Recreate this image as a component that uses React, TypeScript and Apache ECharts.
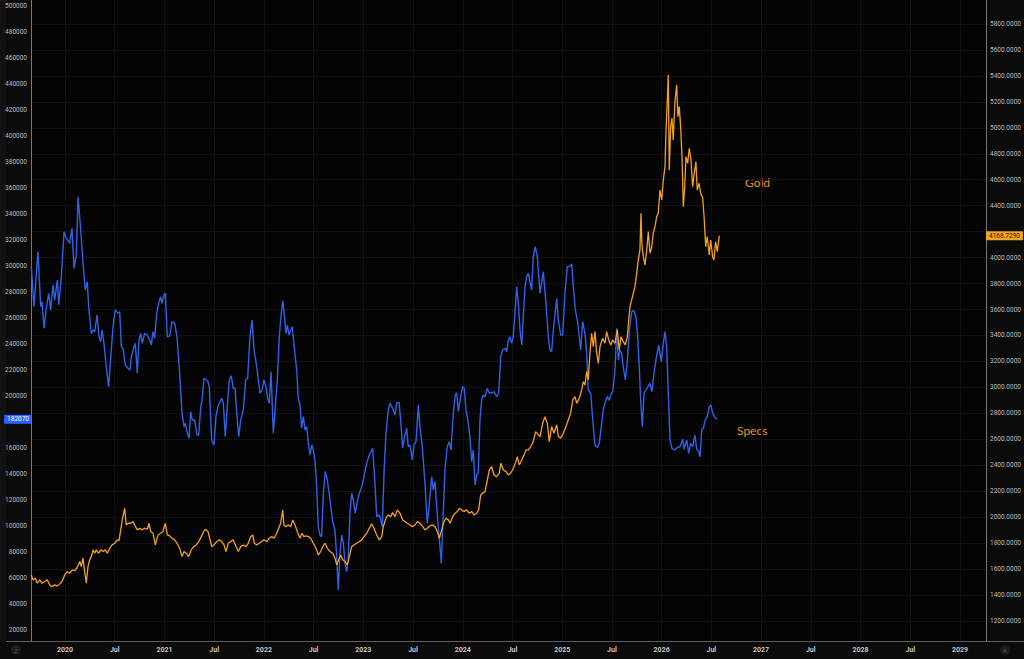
import React, { useEffect, useRef } from "react";
import * as echarts from "echarts";

// Speculator net positions (left axis) — [decimal year, contracts]
const specs: [number, number][] = [
  [2019.661, 299500], [2019.688, 268700], [2019.728, 311000], [2019.756, 268700], [2019.769, 272500],
  [2019.789, 252100], [2019.812, 267500], [2019.836, 279000], [2019.856, 266200], [2019.879, 285400],
  [2019.896, 273800], [2019.923, 289200], [2019.937, 270000], [2019.963, 291800], [2019.990, 326400],
  [2020.013, 321300], [2020.047, 317500], [2020.070, 329000], [2020.091, 298200], [2020.114, 308500],
  [2020.131, 353300], [2020.158, 327700], [2020.181, 302100], [2020.204, 281500], [2020.224, 287900],
  [2020.238, 268700], [2020.264, 248200], [2020.282, 250800], [2020.299, 249500], [2020.322, 262300],
  [2020.342, 245600], [2020.359, 241800], [2020.372, 250800], [2020.392, 240500], [2020.415, 222500],
  [2020.439, 207200], [2020.460, 230200], [2020.483, 253300], [2020.506, 266200], [2020.533, 263600],
  [2020.550, 264800], [2020.566, 237900], [2020.583, 236700], [2020.606, 223800], [2020.634, 221300],
  [2020.654, 220000], [2020.667, 230200], [2020.694, 237900], [2020.707, 240500], [2020.727, 217500],
  [2020.744, 243100], [2020.761, 248200], [2020.777, 240500], [2020.801, 248200], [2020.825, 246900],
  [2020.852, 243100], [2020.868, 239200], [2020.885, 249500], [2020.902, 244400], [2020.922, 263600],
  [2020.942, 271300], [2020.962, 276400], [2020.975, 271300], [2020.996, 277700], [2021.009, 279000],
  [2021.029, 245600], [2021.053, 246200], [2021.076, 257200], [2021.103, 255900], [2021.126, 245600],
  [2021.153, 217500], [2021.177, 186700], [2021.197, 176400], [2021.210, 179000], [2021.230, 171300],
  [2021.247, 167500], [2021.264, 187900], [2021.280, 181500], [2021.304, 181500], [2021.327, 170000],
  [2021.345, 170000], [2021.365, 191800], [2021.378, 196900], [2021.398, 213600], [2021.421, 212300],
  [2021.438, 211000], [2021.451, 207200], [2021.475, 166200], [2021.498, 162300], [2021.518, 184100],
  [2021.542, 193100], [2021.576, 198200], [2021.592, 194400], [2021.612, 168700], [2021.632, 191800],
  [2021.652, 212300], [2021.672, 215400], [2021.692, 205900], [2021.710, 205900], [2021.727, 186700],
  [2021.747, 168700], [2021.767, 181500], [2021.793, 189200], [2021.817, 212300], [2021.837, 213600],
  [2021.860, 245600], [2021.881, 258500], [2021.901, 235400], [2021.928, 222500], [2021.961, 202100],
  [2021.981, 204600], [2022.001, 212300], [2022.021, 207200], [2022.038, 198200], [2022.054, 194400],
  [2022.072, 218700], [2022.095, 171300], [2022.115, 191800], [2022.135, 212300], [2022.155, 245600],
  [2022.172, 261000], [2022.189, 273300], [2022.205, 263600], [2022.222, 248200], [2022.236, 254600],
  [2022.253, 246900], [2022.270, 250800], [2022.286, 253300], [2022.303, 239200], [2022.330, 220000],
  [2022.346, 198200], [2022.363, 193100], [2022.380, 175200], [2022.396, 184100], [2022.414, 173800],
  [2022.431, 176400], [2022.447, 163600], [2022.464, 154600], [2022.481, 162300], [2022.497, 158500],
  [2022.514, 150800], [2022.531, 130200], [2022.547, 99500], [2022.564, 93100], [2022.581, 91800],
  [2022.598, 125200], [2022.618, 141800], [2022.638, 135400], [2022.665, 120000], [2022.692, 103300],
  [2022.715, 96900], [2022.732, 76400], [2022.748, 50800], [2022.765, 79000], [2022.783, 93100],
  [2022.799, 86700], [2022.816, 71300], [2022.833, 64800], [2022.849, 76400], [2022.866, 109800],
  [2022.883, 125200], [2022.899, 120000], [2022.919, 109800], [2022.939, 118700], [2022.960, 125200],
  [2022.984, 130200], [2023.007, 137900], [2023.034, 148200], [2023.060, 154600], [2023.094, 159800],
  [2023.117, 132800], [2023.135, 107200], [2023.161, 108500], [2023.175, 104600], [2023.191, 99500],
  [2023.208, 140500], [2023.228, 171300], [2023.251, 189200], [2023.268, 194400], [2023.295, 190500],
  [2023.319, 185400], [2023.336, 194800], [2023.359, 194800], [2023.376, 181500], [2023.396, 159800],
  [2023.412, 167500], [2023.436, 175200], [2023.452, 161000], [2023.469, 162300], [2023.493, 150800],
  [2023.510, 162300], [2023.530, 164800], [2023.553, 193100], [2023.570, 176400], [2023.593, 161000],
  [2023.620, 132800], [2023.643, 102100], [2023.664, 117500], [2023.688, 137900], [2023.704, 127700],
  [2023.721, 134100], [2023.738, 114800], [2023.754, 99500], [2023.771, 84100], [2023.784, 71300],
  [2023.804, 109800], [2023.821, 143100], [2023.844, 161000], [2023.865, 164800], [2023.882, 158500],
  [2023.905, 186700], [2023.925, 200800], [2023.939, 202500], [2023.955, 187900], [2023.979, 199500],
  [2023.999, 207200], [2024.015, 205900], [2024.033, 189200], [2024.056, 179000], [2024.073, 167500],
  [2024.090, 149500], [2024.106, 158500], [2024.123, 131500], [2024.140, 139200], [2024.156, 141000],
  [2024.173, 181500], [2024.190, 196900], [2024.207, 200800], [2024.224, 199500], [2024.247, 205900],
  [2024.267, 202100], [2024.294, 202500], [2024.314, 203300], [2024.341, 199500], [2024.361, 202100],
  [2024.382, 230200], [2024.402, 235400], [2024.425, 236700], [2024.442, 234100], [2024.458, 243100],
  [2024.475, 245600], [2024.492, 240500], [2024.508, 245600], [2024.525, 263600], [2024.542, 284100],
  [2024.559, 271300], [2024.576, 250800], [2024.593, 239200], [2024.609, 261000], [2024.626, 284100],
  [2024.643, 291800], [2024.659, 294400], [2024.676, 287900], [2024.693, 281500], [2024.709, 307200],
  [2024.729, 314800], [2024.750, 307200], [2024.760, 296900], [2024.777, 279000], [2024.810, 295600],
  [2024.837, 271300], [2024.860, 245600], [2024.877, 235400], [2024.894, 234100], [2024.911, 250800],
  [2024.945, 275200], [2024.961, 258500], [2024.985, 246900], [2025.005, 246900], [2025.028, 279000],
  [2025.051, 299500], [2025.071, 299500], [2025.096, 301500], [2025.112, 284100], [2025.132, 266200],
  [2025.152, 258500], [2025.172, 245600], [2025.186, 235400], [2025.206, 257200], [2025.229, 248200],
  [2025.246, 232800], [2025.262, 204600], [2025.287, 202100], [2025.307, 181500], [2025.330, 162300],
  [2025.353, 160500], [2025.373, 163600], [2025.397, 179000], [2025.413, 189200], [2025.430, 194400],
  [2025.454, 199500], [2025.474, 196900], [2025.488, 200800], [2025.508, 203300], [2025.531, 220000],
  [2025.548, 252100], [2025.564, 227700], [2025.581, 235400], [2025.598, 232800], [2025.614, 222500],
  [2025.635, 212300], [2025.655, 226400], [2025.675, 250800], [2025.699, 264800], [2025.722, 265600],
  [2025.742, 261000], [2025.759, 245600], [2025.775, 222500], [2025.789, 196900], [2025.806, 176400],
  [2025.823, 202100], [2025.843, 204600], [2025.863, 207200], [2025.883, 209800], [2025.903, 203300],
  [2025.923, 217500], [2025.943, 227700], [2025.970, 239200], [2025.997, 226400], [2026.017, 240500],
  [2026.034, 249500], [2026.051, 237900], [2026.067, 202100], [2026.084, 166200], [2026.104, 159800],
  [2026.134, 158500], [2026.158, 160500], [2026.185, 161000], [2026.212, 166700], [2026.225, 159000],
  [2026.252, 166200], [2026.272, 155900], [2026.292, 163600], [2026.312, 161000], [2026.335, 170000],
  [2026.353, 159000], [2026.373, 157200], [2026.386, 153300], [2026.403, 173800], [2026.419, 175200],
  [2026.439, 181500], [2026.459, 184100], [2026.479, 191800], [2026.496, 193100], [2026.513, 186700],
  [2026.534, 183600], [2026.560, 182070],
];

// Gold price (right axis) — [decimal year, USD]
const gold: [number, number][] = [
  [2019.661, 1555], [2019.678, 1517], [2019.701, 1530], [2019.721, 1491], [2019.746, 1517],
  [2019.769, 1491], [2019.796, 1504], [2019.822, 1517], [2019.846, 1478], [2019.869, 1465],
  [2019.896, 1478], [2019.923, 1470], [2019.947, 1486], [2019.970, 1504], [2019.997, 1555],
  [2020.023, 1580], [2020.047, 1568], [2020.073, 1594], [2020.098, 1588], [2020.124, 1614],
  [2020.148, 1658], [2020.164, 1619], [2020.181, 1684], [2020.198, 1580], [2020.214, 1491],
  [2020.231, 1619], [2020.248, 1671], [2020.264, 1696], [2020.282, 1748], [2020.299, 1722],
  [2020.315, 1748], [2020.339, 1722], [2020.359, 1748], [2020.382, 1735], [2020.405, 1748],
  [2020.425, 1722], [2020.450, 1761], [2020.473, 1786], [2020.500, 1799], [2020.526, 1825],
  [2020.543, 1820], [2020.560, 1902], [2020.576, 1979], [2020.600, 2069], [2020.616, 1940],
  [2020.634, 1953], [2020.661, 1953], [2020.684, 1966], [2020.701, 1940], [2020.727, 1902],
  [2020.751, 1915], [2020.774, 1902], [2020.801, 1915], [2020.828, 1907], [2020.845, 1953],
  [2020.862, 1889], [2020.885, 1876], [2020.908, 1786], [2020.935, 1863], [2020.962, 1876],
  [2020.985, 1889], [2021.009, 1953], [2021.029, 1863], [2021.053, 1856], [2021.076, 1838],
  [2021.103, 1825], [2021.126, 1799], [2021.153, 1761], [2021.177, 1696], [2021.197, 1735],
  [2021.220, 1722], [2021.244, 1696], [2021.270, 1748], [2021.294, 1773], [2021.320, 1786],
  [2021.345, 1812], [2021.371, 1850], [2021.395, 1889], [2021.411, 1907], [2021.438, 1889],
  [2021.451, 1850], [2021.475, 1773], [2021.498, 1786], [2021.525, 1812], [2021.552, 1825],
  [2021.576, 1812], [2021.599, 1786], [2021.619, 1735], [2021.642, 1799], [2021.666, 1812],
  [2021.692, 1825], [2021.720, 1773], [2021.743, 1735], [2021.767, 1773], [2021.793, 1786],
  [2021.820, 1773], [2021.843, 1799], [2021.867, 1850], [2021.888, 1863], [2021.904, 1799],
  [2021.928, 1786], [2021.954, 1799], [2021.978, 1812], [2022.001, 1825], [2022.028, 1812],
  [2022.054, 1838], [2022.079, 1850], [2022.102, 1838], [2022.129, 1876], [2022.149, 1915],
  [2022.169, 1953], [2022.189, 2056], [2022.202, 1940], [2022.222, 1927], [2022.245, 1940],
  [2022.270, 1927], [2022.290, 1979], [2022.313, 1940], [2022.336, 1889], [2022.363, 1838],
  [2022.383, 1876], [2022.403, 1850], [2022.424, 1856], [2022.447, 1850], [2022.471, 1838],
  [2022.497, 1799], [2022.524, 1761], [2022.547, 1709], [2022.571, 1735], [2022.592, 1773],
  [2022.615, 1799], [2022.638, 1761], [2022.665, 1735], [2022.692, 1722], [2022.715, 1684],
  [2022.732, 1632], [2022.758, 1684], [2022.772, 1709], [2022.793, 1671], [2022.816, 1658],
  [2022.839, 1632], [2022.859, 1696], [2022.883, 1773], [2022.906, 1786], [2022.933, 1799],
  [2022.960, 1812], [2022.984, 1825], [2023.007, 1850], [2023.034, 1876], [2023.060, 1915],
  [2023.084, 1948], [2023.107, 1915], [2023.135, 1863], [2023.161, 1825], [2023.185, 1850],
  [2023.201, 1927], [2023.228, 1992], [2023.251, 2017], [2023.275, 2004], [2023.295, 2035],
  [2023.319, 2004], [2023.342, 2056], [2023.369, 2030], [2023.396, 1979], [2023.419, 1966],
  [2023.442, 1953], [2023.469, 1940], [2023.493, 1927], [2023.520, 1940], [2023.543, 1966],
  [2023.570, 1953], [2023.597, 1927], [2023.620, 1902], [2023.643, 1915], [2023.671, 1933],
  [2023.698, 1940], [2023.721, 1927], [2023.744, 1889], [2023.764, 1838], [2023.784, 1889],
  [2023.804, 1953], [2023.831, 1992], [2023.855, 1979], [2023.872, 1953], [2023.899, 2004],
  [2023.922, 2030], [2023.945, 2043], [2023.965, 2069], [2023.989, 2056], [2024.012, 2043],
  [2024.039, 2056], [2024.066, 2030], [2024.090, 2043], [2024.113, 2017], [2024.140, 2030],
  [2024.160, 2056], [2024.180, 2171], [2024.200, 2185], [2024.224, 2197], [2024.241, 2262],
  [2024.267, 2364], [2024.291, 2389], [2024.314, 2326], [2024.341, 2312], [2024.367, 2339],
  [2024.384, 2416], [2024.408, 2364], [2024.435, 2351], [2024.458, 2326], [2024.482, 2339],
  [2024.508, 2377], [2024.535, 2428], [2024.548, 2467], [2024.569, 2403], [2024.593, 2441],
  [2024.616, 2480], [2024.636, 2518], [2024.659, 2518], [2024.683, 2544], [2024.709, 2582],
  [2024.733, 2659], [2024.760, 2634], [2024.777, 2621], [2024.804, 2724], [2024.827, 2775],
  [2024.850, 2724], [2024.870, 2582], [2024.894, 2698], [2024.917, 2647], [2024.945, 2711],
  [2024.961, 2621], [2024.985, 2608], [2025.011, 2647], [2025.038, 2698], [2025.061, 2749],
  [2025.085, 2801], [2025.106, 2903], [2025.129, 2929], [2025.146, 2878], [2025.172, 2916],
  [2025.196, 2980], [2025.212, 3044], [2025.229, 3019], [2025.246, 3121], [2025.262, 3057],
  [2025.279, 3263], [2025.296, 3417], [2025.313, 3314], [2025.330, 3430], [2025.347, 3263],
  [2025.363, 3186], [2025.380, 3314], [2025.407, 3379], [2025.430, 3340], [2025.447, 3430],
  [2025.468, 3366], [2025.488, 3327], [2025.508, 3366], [2025.531, 3340], [2025.554, 3443],
  [2025.574, 3289], [2025.591, 3391], [2025.614, 3352], [2025.635, 3327], [2025.655, 3391],
  [2025.669, 3520], [2025.682, 3622], [2025.699, 3674], [2025.715, 3725], [2025.732, 3776],
  [2025.749, 3879], [2025.765, 3982], [2025.782, 4059], [2025.792, 4342], [2025.802, 4097],
  [2025.816, 4007], [2025.833, 3943], [2025.850, 4059], [2025.866, 4200], [2025.883, 4033],
  [2025.900, 4084], [2025.916, 4188], [2025.933, 4238], [2025.950, 4315], [2025.966, 4342],
  [2025.983, 4521], [2026.001, 4444], [2026.017, 4598], [2026.034, 4701], [2026.044, 4983],
  [2026.057, 5214], [2026.067, 5407], [2026.077, 4675], [2026.091, 5009], [2026.104, 5074],
  [2026.117, 4906], [2026.134, 5201], [2026.151, 5330], [2026.164, 5086], [2026.177, 5163],
  [2026.191, 5009], [2026.205, 4778], [2026.218, 4392], [2026.232, 4547], [2026.245, 4778],
  [2026.262, 4727], [2026.278, 4842], [2026.295, 4752], [2026.312, 4547], [2026.328, 4650],
  [2026.345, 4739], [2026.358, 4521], [2026.376, 4573], [2026.393, 4496], [2026.413, 4457],
  [2026.429, 4290], [2026.443, 4084], [2026.459, 4161], [2026.479, 4020], [2026.493, 4136],
  [2026.513, 4007], [2026.526, 3982], [2026.543, 4123], [2026.560, 4046], [2026.580, 4168.729],
];

const xTicks = [
  2020, 2020.5, 2021, 2021.5, 2022, 2022.5, 2023, 2023.5, 2024, 2024.5,
  2025, 2025.5, 2026, 2026.5, 2027, 2027.5, 2028, 2028.5, 2029,
];
// left scale labels (180000 is covered by the last-value tag, as in the reference)
const leftLabels = [
  20000, 40000, 60000, 80000, 100000, 120000, 140000, 160000, 200000,
  220000, 240000, 260000, 280000, 300000, 320000, 340000, 360000, 380000, 400000,
  420000, 440000, 460000, 480000, 500000,
];
const rightGrid = [
  1200, 1400, 1600, 1800, 2000, 2200, 2400, 2600, 2800, 3000, 3200, 3400,
  3600, 3800, 4000, 4200, 4400, 4600, 4800, 5000, 5200, 5400, 5600, 5800,
];
// right scale labels (4200 is covered by the last-price tag)
const rightLabels = [
  1200, 1400, 1600, 1800, 2000, 2200, 2400, 2600, 2800, 3000, 3200, 3400,
  3600, 3800, 4000, 4400, 4600, 4800, 5000, 5200, 5400, 5600, 5800,
];
const specsLast = 182070;
const goldLast = 4168.729;

const BLUE = "#2f62e8";
const ORANGE = "#f4a11f";
const FONT = "Roboto, 'Liberation Sans', sans-serif";

export default function App() {
  const ref = useRef<HTMLDivElement>(null);

  useEffect(() => {
    document.body.style.margin = "0";
    document.body.style.background = "#040404";
    const chart = echarts.init(ref.current as HTMLDivElement, null, { renderer: "svg" });
    chart.setOption({
      animation: false,
      backgroundColor: "#040404",
      textStyle: { fontFamily: FONT },
      grid: { left: 31, right: 38, top: 0, bottom: 18, containLabel: false },
      xAxis: {
        type: "value",
        min: 2019.658,
        max: 2029.262,
        axisLine: { show: true, lineStyle: { color: "#5e5e5e", width: 1 } },
        axisTick: { show: false, customValues: xTicks },
        axisLabel: {
          customValues: xTicks,
          formatter: (v: number) => (Math.abs(v - Math.round(v)) < 1e-6 ? String(Math.round(v)) : "Jul"),
          color: "#c6c6c6",
          fontSize: 7,
          fontWeight: "bold",
          margin: 5,
          fontFamily: FONT,
        },
        splitLine: { show: true, lineStyle: { color: "#111111", width: 1 } },
      },
      yAxis: [
        {
          type: "value",
          position: "left",
          min: 11538,
          max: 504615,
          axisLine: { show: true, lineStyle: { color: "#777777", width: 1 } },
          axisTick: { show: false, customValues: leftLabels },
          axisLabel: {
            customValues: leftLabels,
            formatter: (v: number) => String(v),
            color: "#bdbdbd",
            fontSize: 6.5,
            margin: 4,
            fontFamily: FONT,
          },
          splitLine: { show: false },
        },
        {
          type: "value",
          position: "right",
          min: 1045.9,
          max: 5984.9,
          axisLine: { show: true, lineStyle: { color: "#777777", width: 1 } },
          axisTick: { show: false, customValues: rightGrid },
          axisLabel: {
            customValues: rightLabels,
            formatter: (v: number) => v.toFixed(4),
            color: "#bdbdbd",
            fontSize: 6.5,
            margin: 4,
            fontFamily: FONT,
          },
          splitLine: { show: true, lineStyle: { color: "#111111", width: 1 } },
        },
      ],
      series: [
        {
          name: "Specs",
          type: "line",
          yAxisIndex: 0,
          data: specs,
          symbol: "none",
          showSymbol: false,
          lineStyle: { color: BLUE, width: 1.4 },
          z: 3,
          markLine: {
            silent: true,
            symbol: ["none", "none"],
            lineStyle: { width: 0, color: "rgba(0,0,0,0)" },
            label: {
              show: true,
              position: "start",
              distance: 0,
              formatter: String(specsLast),
              color: "#ffffff",
              backgroundColor: "#2962ff",
              fontSize: 6.5,
              padding: [1, 2, 1, 3],
              fontFamily: FONT,
            },
            data: [{ yAxis: specsLast }],
          },
        },
        {
          name: "Gold",
          type: "line",
          yAxisIndex: 1,
          data: gold,
          symbol: "none",
          showSymbol: false,
          lineStyle: { color: ORANGE, width: 1.3 },
          z: 4,
          markLine: {
            silent: true,
            symbol: ["none", "none"],
            lineStyle: { width: 0, color: "rgba(0,0,0,0)" },
            label: {
              show: true,
              position: "end",
              distance: 0,
              formatter: goldLast.toFixed(4),
              color: "#1a1206",
              backgroundColor: "#f7a31c",
              fontSize: 6.5,
              padding: [1, 3, 1, 3],
              fontFamily: FONT,
            },
            data: [{ yAxis: goldLast }],
          },
        },
      ],
      graphic: [
        { type: "rect", z: -10, silent: true, shape: { x: 0, y: 0, width: 31, height: 659 }, style: { fill: "#0b0b0b" } },
        { type: "rect", z: -10, silent: true, shape: { x: 0, y: 0, width: 6, height: 659 }, style: { fill: "#121212" } },
        { type: "rect", z: -10, silent: true, shape: { x: 986, y: 0, width: 38, height: 659 }, style: { fill: "#0b0b0b" } },
        { type: "rect", z: -10, silent: true, shape: { x: 0, y: 641, width: 1024, height: 18 }, style: { fill: "#0b0b0b" } },
        { type: "line", silent: true, shape: { x1: 6, y1: 641.5, x2: 1024, y2: 641.5 }, style: { stroke: "#5e5e5e", lineWidth: 1 } },
        { type: "circle", silent: true, shape: { cx: 16, cy: 650, r: 5 }, style: { fill: "#1c1c1c" } },
        { type: "text", silent: true, x: 16, y: 650, style: { text: "Z", fill: "#4a4a4a", font: `6px ${FONT}`, align: "center", verticalAlign: "middle" } },
        { type: "circle", silent: true, shape: { cx: 1005, cy: 650, r: 5 }, style: { fill: "#1c1c1c" } },
        { type: "text", silent: true, x: 1005, y: 650, style: { text: "A", fill: "#5a5a5a", font: `6px ${FONT}`, align: "center", verticalAlign: "middle" } },
        { type: "text", silent: true, x: 745, y: 182.5, style: { text: "Gold", fill: "#e4981f", font: `12px Lato, 'Open Sans', sans-serif`, align: "left", verticalAlign: "middle" } },
        { type: "text", silent: true, x: 737, y: 430.5, style: { text: "Specs", fill: "#e4981f", font: `12px Lato, 'Open Sans', sans-serif`, align: "left", verticalAlign: "middle" } },
      ],
    });
    return () => chart.dispose();
  }, []);

  return <div ref={ref} style={{ position: "fixed", left: 0, top: 0, width: 1024, height: 659 }} />;
}
